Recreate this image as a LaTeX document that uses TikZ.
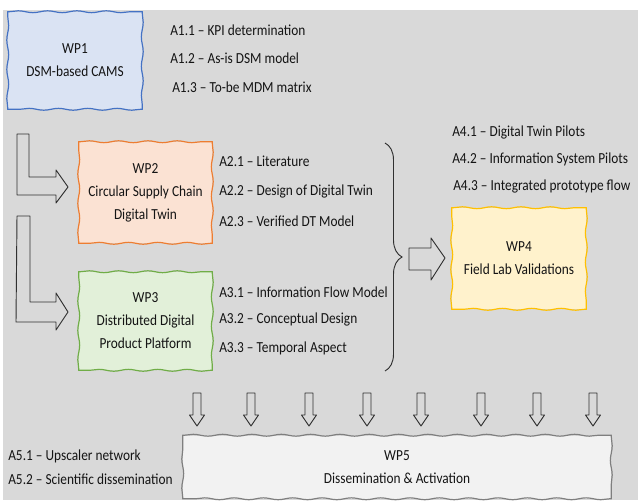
\documentclass[tikz,border=0pt]{standalone}
\usepackage{fontspec}
\setmainfont{Carlito}[FakeStretch=0.87]
\usetikzlibrary{decorations.pathmorphing,decorations.pathreplacing}
\definecolor{bggray}{HTML}{D9D9D9}
\definecolor{bluefill}{HTML}{DAE3F3}
\definecolor{blueline}{HTML}{4472C4}
\definecolor{orfill}{HTML}{FBE2D3}
\definecolor{orline}{HTML}{ED7D31}
\definecolor{grfill}{HTML}{E2F0D9}
\definecolor{grline}{HTML}{70AD47}
\definecolor{yefill}{HTML}{FFF2CC}
\definecolor{yeline}{HTML}{FFC000}
\definecolor{wpfill}{HTML}{F2F2F2}
\definecolor{wpline}{HTML}{7F7F7F}
\definecolor{txt}{HTML}{141414}
\definecolor{arr}{HTML}{303030}
\tikzset{
  wpbox/.style={align=center, text=txt, inner sep=0pt,
    font=\fontsize{11.5}{17.2}\selectfont},
  wavy/.style={line width=0.9pt, line cap=round,
    decorate, decoration={snake, segment length=22pt, amplitude=0.7pt, pre length=1pt, post length=1pt}},
  act/.style={anchor=west, text=txt, inner sep=0pt, font=\fontsize{11.5}{13}\selectfont},
  hollow/.style={draw=arr, line width=0.7pt, line join=round},
  pics/downarr/.style={code={
    \draw[hollow] (-4,0) -- (4,0) -- (4,22) -- (7.5,22) -- (0,33) -- (-7.5,22) -- (-4,22) -- cycle;}}
}
\newcommand\wavyframe[2]{%
  \draw[#2, wavy] (#1.north west) -- (#1.north east);
  \draw[#2, wavy] (#1.north east) -- (#1.south east);
  \draw[#2, wavy] (#1.south east) -- (#1.south west);
  \draw[#2, wavy] (#1.south west) -- (#1.north west);}
\begin{document}
\begin{tikzpicture}[x=0.75pt,y=-0.75pt]
\useasboundingbox (0,0) rectangle (638,500);
\fill[bggray] (3,10) rectangle (638,500);

% boxes
\node[wpbox, fill=bluefill, minimum width=100.5pt, minimum height=72.75pt] (wp1) at (75,60.5) {WP1\\DSM-based CAMS};
\node[wpbox, fill=orfill, minimum width=99.75pt, minimum height=75.75pt] (wp2) at (145.5,192.5) {WP2\\Circular Supply Chain\\Digital Twin};
\node[wpbox, fill=grfill, minimum width=99.75pt, minimum height=73.5pt] (wp3) at (145.5,321) {WP3\\Distributed Digital\\Product Platform};
\node[wpbox, fill=yefill, minimum width=100.5pt, minimum height=75.75pt] (wp4) at (519,258.5) {WP4\\Field Lab Validations};
\node[wpbox, fill=wpfill, minimum width=321pt, minimum height=47.25pt] (wp5) at (397,467) {WP5\\Dissemination \& Activation};
\wavyframe{wp1}{blueline}
\wavyframe{wp2}{orline}
\wavyframe{wp3}{grline}
\wavyframe{wp4}{yeline}
\wavyframe{wp5}{wpline}

% activities
\node[act] (a11) at (170,30) {A1.1 – KPI determination};
\node[act] (a12) at (170,58) {A1.2 – As-is DSM model};
\node[act] (a13) at (172,87) {A1.3 – To-be MDM matrix};
\node[act] (a21) at (219,161) {A2.1 – Literature};
\node[act] (a22) at (219,191) {A2.2 – Design of Digital Twin};
\node[act] (a23) at (219,221) {A2.3 – Verified DT Model};
\node[act] (a31) at (219,292) {A3.1 – Information Flow Model};
\node[act] (a32) at (219,319) {A3.2 – Conceptual Design};
\node[act] (a33) at (219,348) {A3.3 – Temporal Aspect};
\node[act] (a41) at (452,132) {A4.1 – Digital Twin Pilots};
\node[act] (a42) at (452,159) {A4.2 – Information System Pilots};
\node[act] (a43) at (453,186) {A4.3 – Integrated prototype flow};
\node[act] (a51) at (8,456) {A5.1 – Upscaler network};
\node[act] (a52) at (8,479) {A5.2 – Scientific dissemination};

% L arrows
\draw[hollow] (17,134) -- (29,134) -- (29,177) -- (56,177) -- (56,170) -- (68,187) -- (56,203) -- (56,195) -- (17,195) -- cycle;
\draw[hollow] (17,216) -- (30,216) -- (30,302) -- (56,302) -- (56,293) -- (68,312) -- (56,330) -- (56,322) -- (16,322) -- cycle;

% brace
\draw[arr, line width=0.7pt, decorate, decoration={brace, amplitude=12.75pt}] (385,143) -- (385,371);

% right arrow
\draw[hollow] (409,248) -- (431,248) -- (431,238) -- (445,258) -- (431,280) -- (431,270) -- (409,270) -- cycle;

% down arrows
\foreach \x in {197,251,309,367,421,481,537,593}
  \pic at (\x,393) {downarr};
\end{tikzpicture}
\end{document}
